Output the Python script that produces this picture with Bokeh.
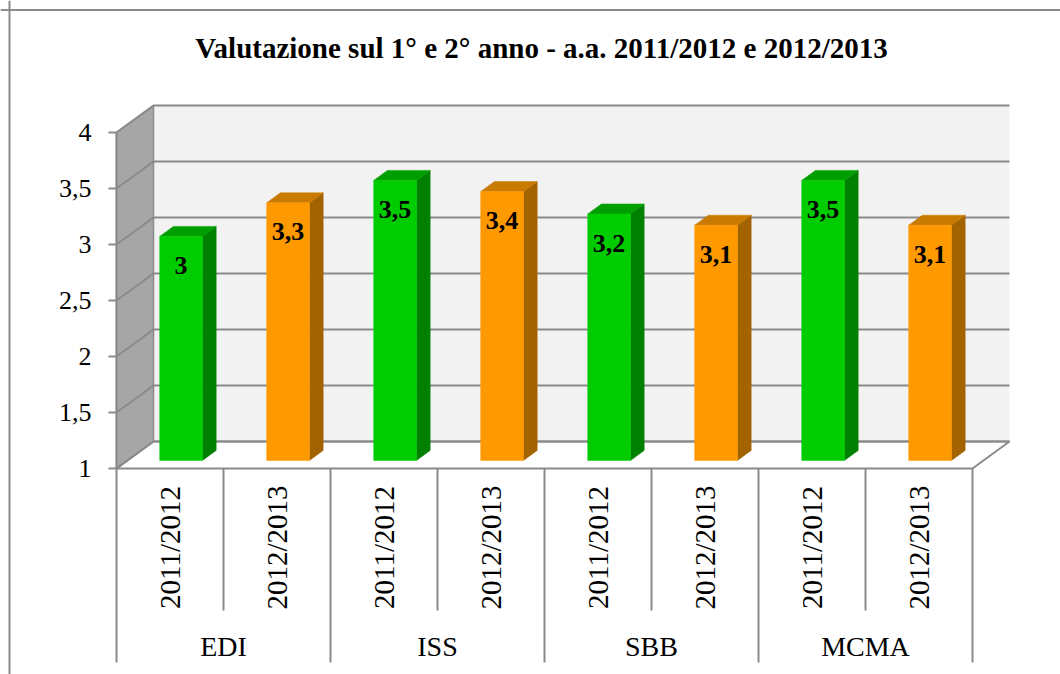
from bokeh.plotting import figure
from bokeh.models import Range1d, Span
from bokeh.core.properties import value
from bokeh.embed import file_html
from bokeh.resources import INLINE
import math

# ---------------- data ----------------
title_text = "Valutazione sul 1° e 2° anno - a.a. 2011/2012 e 2012/2013"
groups = ["EDI", "ISS", "SBB", "MCMA"]
years = ["2011/2012", "2012/2013"]
vals_2011 = [3.0, 3.5, 3.2, 3.5]
vals_2012 = [3.3, 3.4, 3.1, 3.1]
y_ticks = [1, 1.5, 2, 2.5, 3, 3.5, 4]
y_tick_labels = ["1", "1,5", "2", "2,5", "3", "3,5", "4"]
label_2011 = ["3", "3,5", "3,2", "3,5"]
label_2012 = ["3,3", "3,4", "3,1", "3,1"]

# ---------------- layout constants ----------------
W, H = 1060, 674
SX = 107.0   # px per category slot
SY = 112.0   # px per value unit
LEFT_PX = 116.0     # canvas px of slot 0 start
BASE_PX = 468.0     # canvas px (from top) of value 1 front
YMIN, YMAX = y_ticks[0], y_ticks[-1]

X0 = -LEFT_PX / SX
X1 = X0 + W / SX
Y1 = YMIN + BASE_PX / SY
Y0 = Y1 - H / SY

def px_x(d):
    return d / SX

def px_y(d):
    return d / SY

DX = px_x(37)   # wall depth vector
DY = px_y(27)
F0, F1 = 0.30, 0.67   # bar depth fractions
BW = 0.40             # bar width (slots)

GRID = "#8a8a8a"
FONT = value("Liberation Serif")

p = figure(width=W, height=H, output_backend="svg", toolbar_location=None,
           x_range=Range1d(X0, X1), y_range=Range1d(Y0, Y1),
           min_border=0, min_border_left=0, min_border_right=0,
           min_border_top=0, min_border_bottom=0)
p.xaxis.visible = False
p.yaxis.visible = False
p.xgrid.visible = False
p.ygrid.visible = False
p.outline_line_color = None
p.background_fill_color = "white"
p.border_fill_color = "white"

n_slots = len(groups) * len(years)

# back wall
p.quad(left=[DX], right=[n_slots + DX], bottom=[YMIN + DY], top=[YMAX + DY],
       fill_color="#f2f2f2", line_color=None)
# left wall
p.patch([0, 0, DX, DX], [YMIN, YMAX, YMAX + DY, YMIN + DY],
        fill_color="#a6a6a6", line_color=GRID, line_width=1.5)
# floor
p.patch([0, n_slots, n_slots + DX, DX], [YMIN, YMIN, YMIN + DY, YMIN + DY],
        fill_color="white", line_color=GRID, line_width=2)

# gridlines (left wall diagonal + back wall)
gx, gy = [], []
for t in y_ticks:
    gx.append([0, DX, n_slots + DX])
    gy.append([t, t + DY, t + DY])
p.multi_line(gx, gy, line_color=GRID, line_width=2)

# front value axis + ticks
p.segment([0], [YMIN], [0], [YMAX], line_color=GRID, line_width=2)
p.segment([-px_x(8)] * len(y_ticks), y_ticks, [0] * len(y_ticks), y_ticks,
          line_color=GRID, line_width=2)
p.text([-px_x(25)] * len(y_ticks), y_ticks, text=y_tick_labels,
       text_align="right", text_baseline="middle", text_font=FONT,
       text_font_size="26px", text_color="black")

# bars
def bar_shapes(centers, vals, front, top, side):
    fx, fy, tx, ty, sx, sy = [], [], [], [], [], []
    for c, v in zip(centers, vals):
        l = c - BW / 2 + F0 * DX
        r = c + BW / 2 + F0 * DX
        b = YMIN + F0 * DY
        tp = v + F0 * DY
        ddx = (F1 - F0) * DX
        ddy = (F1 - F0) * DY
        fx.append([l, r, r, l]); fy.append([b, b, tp, tp])
        tx.append([l, r, r + ddx, l + ddx]); ty.append([tp, tp, tp + ddy, tp + ddy])
        sx.append([r, r + ddx, r + ddx, r]); sy.append([b, b + ddy, tp + ddy, tp])
    p.patches(sx, sy, fill_color=side, line_color=side, line_width=0.5)
    p.patches(tx, ty, fill_color=top, line_color=top, line_width=0.5)
    p.patches(fx, fy, fill_color=front, line_color=front, line_width=0.5)

c2011 = [len(years) * i + 0.5 for i in range(len(groups))]
c2012 = [len(years) * i + 1.5 for i in range(len(groups))]
bar_shapes(c2011, vals_2011, "#00cc00", "#009e00", "#008000")
bar_shapes(c2012, vals_2012, "#ff9900", "#c97a00", "#a36300")

# data labels
def data_labels(centers, vals, labels):
    xs = [c + F0 * DX for c in centers]
    ys = [v + F0 * DY - px_y(29) for v in vals]
    p.text(xs, ys, text=labels, text_align="center", text_baseline="middle",
           text_font=FONT, text_font_size="26px", text_font_style="bold",
           text_color="black")

data_labels(c2011, vals_2011, label_2011)
data_labels(c2012, vals_2012, label_2012)

# category axis area
sub_x = [2 * i + 1 for i in range(len(groups))]
grp_x = [2 * i for i in range(len(groups) + 1)]
p.segment(sub_x, [YMIN] * len(sub_x), sub_x, [YMIN - px_y(142)] * len(sub_x),
          line_color=GRID, line_width=2)
p.segment(grp_x, [YMIN] * len(grp_x), grp_x, [YMIN - px_y(194)] * len(grp_x),
          line_color=GRID, line_width=2)

slot_centers = [i + 0.5 for i in range(n_slots)]
slot_labels = [years[i % 2] for i in range(n_slots)]
p.text(slot_centers, [YMIN - px_y(79)] * n_slots, text=slot_labels, angle=math.pi / 2,
       text_align="center", text_baseline="middle", text_font=FONT,
       text_font_size="29px", text_color="black")
p.text([2 * i + 1 for i in range(len(groups))], [YMIN - px_y(178)] * len(groups),
       text=groups, text_align="center", text_baseline="middle", text_font=FONT,
       text_font_size="28px", text_color="black")

# title
p.text([X0 + px_x(541)], [Y1 - px_y(47)], text=[title_text], text_align="center",
       text_baseline="middle", text_font=FONT, text_font_size="29px",
       text_font_style="bold", text_color="black")

# chart border (top and left; right/bottom fall outside the window)
p.add_layout(Span(location=X0 + px_x(9), dimension="height", line_color="#8c8c8c", line_width=2))
p.add_layout(Span(location=Y1 - px_y(9.5), dimension="width", line_color="#8c8c8c", line_width=2))

open("out.html", "w").write(file_html(p, INLINE))
